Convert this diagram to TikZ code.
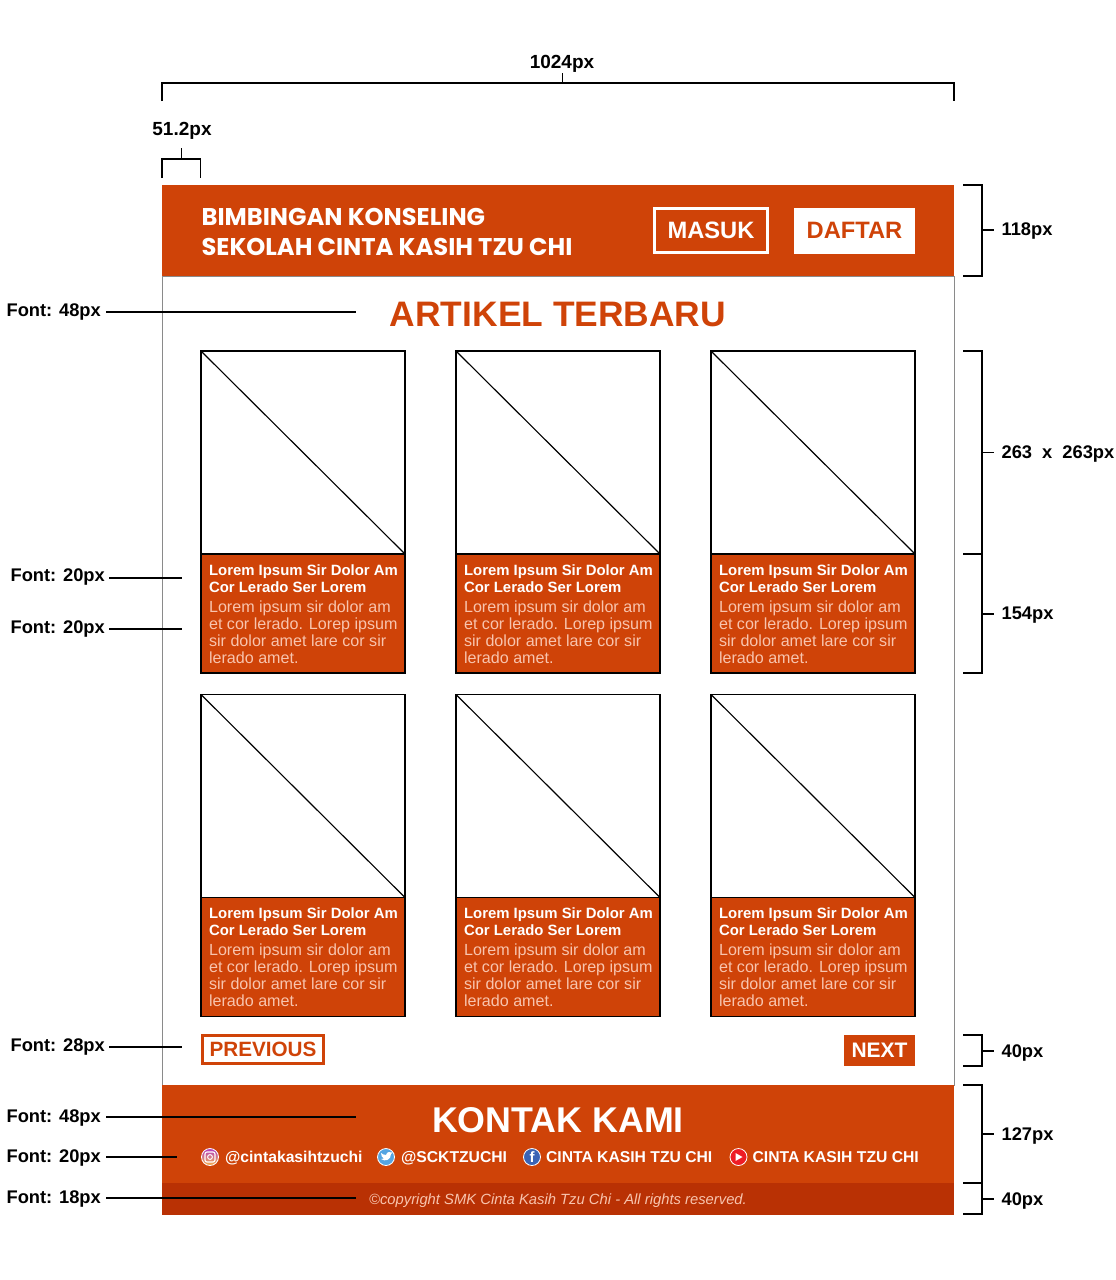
\documentclass[tikz,border=0pt]{standalone}
\usepackage{fontspec}
\setmainfont{Liberation Sans}
\newfontfamily\headfont{Poppins Bold}
\usetikzlibrary{positioning}
\definecolor{brand}{HTML}{CF4308}
\definecolor{branddark}{HTML}{B93104}
\definecolor{bodytxt}{HTML}{F8C4AE}
\definecolor{framegray}{HTML}{8A8A8A}
\definecolor{twblue}{HTML}{55A5E2}
\definecolor{fbblue}{HTML}{3B63B5}
\definecolor{ytred}{HTML}{EE1C25}
\definecolor{igtop}{HTML}{B23CC0}
\definecolor{igbot}{HTML}{F7B34A}
\newcommand{\fs}[2]{\fontsize{#1}{#2}\selectfont}

\begin{document}
\begin{tikzpicture}[x=1pt, y=-1pt, line width=1.15pt,
                    band/.style={rectangle, fill=#1, inner sep=0pt, outer sep=0pt, anchor=north west},
                    imgbox/.style={rectangle, draw=black, fill=white, minimum width=204pt, minimum height=203pt, inner sep=0pt, outer sep=0pt},
                    txtbox/.style={rectangle, draw=black, fill=brand, minimum width=204pt, minimum height=119pt, inner sep=0pt, outer sep=0pt},
                    cardhead/.style={text=white, font=\fs{14.9}{17}\bfseries, align=left, inner sep=0pt},
                    cardbody/.style={text=bodytxt, font=\fs{16.1}{17}, align=left, inner sep=0pt},
                    dimlabel/.style={font=\fs{18.3}{20}\bfseries, inner sep=0pt, anchor=west},
                    toplabel/.style={font=\fs{19}{20}\bfseries, inner sep=0pt},
                    btnline/.style={rectangle, draw=#1, line width=2.2pt, inner sep=0pt, outer sep=0pt},
                    social/.style={text=white, font=\fs{15.7}{18}\bfseries, inner sep=0pt, anchor=west, text height=11.3pt, text depth=0pt},
                    iconmark/.style={circle, inner sep=0pt, outer sep=0pt, minimum size=17pt, draw=white, line width=0.8pt, fill=#1}]
  \useasboundingbox (0,0) rectangle (1116,1280);
  % page frame and bands
  \draw[framegray, line width=0.8pt] (162,276) rectangle (954,1085);
  \node[band=brand, minimum width=792pt, minimum height=91pt] (header) at (162,185) {};
  \node[band=brand, minimum width=792pt, minimum height=98pt] (footer) at (162,1085) {};
  \node[band=branddark, minimum width=792pt, minimum height=32pt] (bottom) at (162,1183) {};
  % header
  \node[text=white, font=\fs{24.2}{29.5}\headfont, align=left, inner sep=0pt, anchor=west] (brand) at (201,232) {BIMBINGAN KONSELING\\SEKOLAH CINTA KASIH TZU CHI};
  \node[btnline=white, minimum width=113pt, minimum height=44pt, text=white, font=\fs{23.7}{28}\bfseries] (masuk) at (711,230.5) {MASUK};
  \node[rectangle, fill=white, minimum width=121pt, minimum height=46pt, inner sep=0pt, text=brand, font=\fs{23.7}{28}\bfseries] (daftar) at (854.5,230.5) {DAFTAR};
  \node[text=brand, font=\fs{35.4}{40}\bfseries, inner sep=0pt] (title) at (558,314.5) {ARTIKEL TERBARU};
  % cards
  \foreach \n/\cx/\cy in {1/303/452.5, 2/558/452.5, 3/813/452.5, 4/303/796, 5/558/796, 6/813/796} {
    \node[imgbox] (img\n) at (\cx,\cy) {};
    \draw (img\n.north west) -- (img\n.south east);
    \node[txtbox, below=0pt of img\n] (txt\n) {};
    \node[cardhead, anchor=north west] (head\n) at ([xshift=7.5pt, yshift=-10pt]txt\n.north west) {Lorem Ipsum Sir Dolor Am\\Cor Lerado Ser Lorem};
    \node[cardbody, anchor=north west] (body\n) at ([yshift=-7pt]head\n.south west) {Lorem ipsum sir dolor am\\et cor lerado. Lorep ipsum\\sir dolor amet lare cor sir\\lerado amet.};
  }
  % pager
  \node[btnline=brand, minimum width=121pt, minimum height=28pt, text=brand, font=\fs{20.7}{24}\bfseries] (prev) at (263,1049.5) {PREVIOUS};
  \node[rectangle, fill=brand, minimum width=71pt, minimum height=31pt, inner sep=0pt, text=white, font=\fs{21}{24}\bfseries] (next) at (879.5,1050) {NEXT};
  % footer
  \node[text=white, font=\fs{35.8}{40}\bfseries, inner sep=0pt] (kontak) at (558,1120) {KONTAK KAMI};
  \node[iconmark={igtop}, top color=igtop, bottom color=igbot, draw=white] (ig) at (210,1157) {};
  \draw[white, line width=1.1pt, rounded corners=2pt] ([shift={(-5,-5)}]ig.center) rectangle ([shift={(5,5)}]ig.center);
  \draw[white, line width=1pt] (ig.center) circle (2.4pt);
  \node[social, right=6pt of ig] (igtxt) {@cintakasihtzuchi};
  \node[iconmark=twblue] (tw) at (386,1157) {};
  \fill[white] (381,1159) .. controls (385,1162) and (391,1160) .. (391,1154) -- (392.5,1152.5) .. controls (390,1152) and (387,1151) .. (386,1155) .. controls (384,1155) and (382,1154) .. (381,1153) .. controls (381,1155) and (382,1158) .. (384,1158.5) -- cycle;
  \node[social, right=6pt of tw] (twtxt) {@SCKTZUCHI};
  \node[iconmark=fbblue, text=white, font=\fs{15}{15}\bfseries] (fb) at (532,1157) {\raisebox{-2pt}{f}};
  \node[social, right=5pt of fb] (fbtxt) {CINTA KASIH TZU CHI};
  \node[iconmark=ytred] (yt) at (738.5,1157) {};
  \fill[white] (735.5,1153) -- (742.5,1157) -- (735.5,1161) -- cycle;
  \node[social, right=5pt of yt] (yttxt) {CINTA KASIH TZU CHI};
  \node[text=bodytxt, font=\fs{14.8}{16}\itshape, inner sep=0pt] (copy) at (558,1200.5) {©copyright SMK Cinta Kasih Tzu Chi - All rights reserved.};
  % width brackets
  \node[toplabel] (wpage) at (562,63.5) {1024px};
  \coordinate (wpagetick) at (562.5,83);
  \draw (162,101) |- (954,83) -- (954,101);
  \draw[line width=1pt] (wpagetick) -- (562.5,73);
  \node[toplabel] (wmargin) at (182,130.5) {51.2px};
  \coordinate (wmargintick) at (181.5,159);
  \draw (162,178) |- (200.5,159) -- (200.5,178);
  \draw[line width=1pt] (wmargintick) -- (181.5,148);
  % height brackets
  \foreach \n/\ya/\yb/\ym/\txt in {1/185/276/230/118px, 2/351/554/452.5/263\hspace{5pt} x\hspace{5pt} 263px, 3/554/673/614/154px, 4/1035/1066/1051/40px, 5/1085/1183/1134/127px, 6/1183/1214/1199/40px} {
    \draw (963,\ya) -- (982,\ya) -- (982,\yb) -- (963,\yb);
    \coordinate (brk\n) at (982,\ym);
    \node[dimlabel] (dim\n) at (1001,\ym+1.5) {\txt};
    \draw (brk\n) -- ([xshift=-7pt]dim\n.west |- brk\n);
  }
  % font callouts
  \foreach \n/\tx/\ty/\sx/\ex/\ly/\txt in {1/6/312.5/106/356/312/48px, 2/10/577.5/109/182/578/20px, 3/10/629.5/109/182/629/20px, 4/10/1046.5/109/182/1047/28px, 5/6/1117.5/106/356/1117/48px, 6/6/1157.5/106/177/1157/20px, 7/6/1198.5/106/356/1198/18px} {
    \node[dimlabel] (font\n) at (\tx,\ty) {Font: \txt};
    \coordinate (fonta\n) at (\sx,\ly);
    \coordinate (fontb\n) at (\ex,\ly);
    \draw (fonta\n) -- (fontb\n);
  }
\end{tikzpicture}
\end{document}
